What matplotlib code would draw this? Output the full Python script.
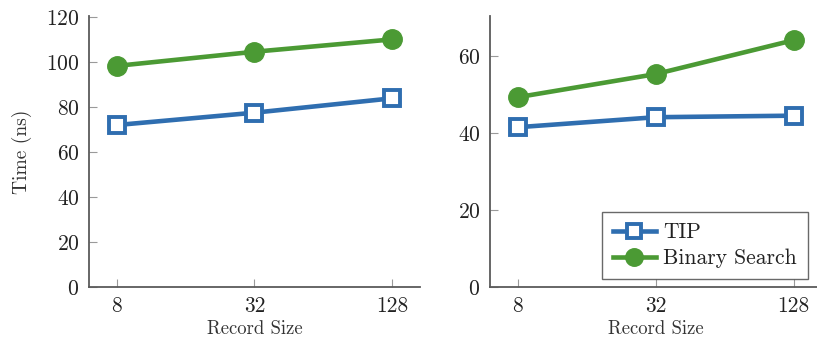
import matplotlib
matplotlib.use("Agg")
import matplotlib.pyplot as plt

# ── Data ──────────────────────────────────────────────────────────────────────
record_sizes = [8, 32, 128]

left_tip = [72.0, 77.5, 83.9]
left_binary = [98.3, 104.6, 110.1]

right_tip = [41.5, 44.1, 44.5]
right_binary = [49.3, 55.3, 64.1]

BLUE = "#2f6eb0"
GREEN = "#4b9a34"
AXIS_GRAY = "#5a5a5a"

plt.rcParams["font.family"] = ["cmr10", "DejaVu Serif"]
plt.rcParams["axes.formatter.use_mathtext"] = True
plt.rcParams["mathtext.fontset"] = "cm"


def style_axis(ax, ylim, yticks):
    ax.set_xscale("log", base=2)
    ax.set_xlim(8 / 2 ** 0.4, 128 * 2 ** 0.4)
    ax.set_xticks(record_sizes)
    ax.set_xticklabels([str(v) for v in record_sizes])
    ax.minorticks_off()
    ax.set_ylim(*ylim)
    ax.set_yticks(yticks)
    for side in ("top", "right"):
        ax.spines[side].set_visible(False)
    for side in ("left", "bottom"):
        ax.spines[side].set_color(AXIS_GRAY)
        ax.spines[side].set_linewidth(1.3)
    ax.tick_params(direction="in", length=6, width=0.8, color="#9a9a9a",
                   labelsize=15.5, labelcolor="#222222", pad=7)
    ax.set_xlabel("Record Size", fontsize=13.5, color="#333333", labelpad=3)


def draw_series(ax, tip, binary):
    ax.plot(record_sizes, tip, color=BLUE, lw=3.3, marker="s", ms=11,
            mfc="white", mec=BLUE, mew=2.8, label="TIP", zorder=3)
    ax.plot(record_sizes, binary, color=GREEN, lw=3.3, marker="o", ms=14,
            mfc=GREEN, mec=GREEN, label="Binary Search", zorder=3)


fig = plt.figure(figsize=(8.17, 3.4), dpi=100)
ax1 = fig.add_axes([0.109, 0.156, 0.405, 0.797])
ax2 = fig.add_axes([0.600, 0.156, 0.405, 0.797])

draw_series(ax1, left_tip, left_binary)
style_axis(ax1, (0, 120.5), [0, 20, 40, 60, 80, 100, 120])
ax1.set_ylabel("Time (ns)", fontsize=14, color="#333333", labelpad=10)

draw_series(ax2, right_tip, right_binary)
style_axis(ax2, (0, 70.4), [0, 20, 40, 60])

leg = ax2.legend(loc="lower right", bbox_to_anchor=(0.96, 0.03),
                 fontsize=15.5, frameon=True, fancybox=False,
                 handlelength=2.0, handletextpad=0.35, borderpad=0.5,
                 labelspacing=0.3, borderaxespad=0.0, markerscale=0.9)
leg.get_frame().set_edgecolor("#444444")
leg.get_frame().set_linewidth(1.0)
for t in leg.get_texts():
    t.set_color("#222222")

fig.savefig("out.png", dpi=100)
